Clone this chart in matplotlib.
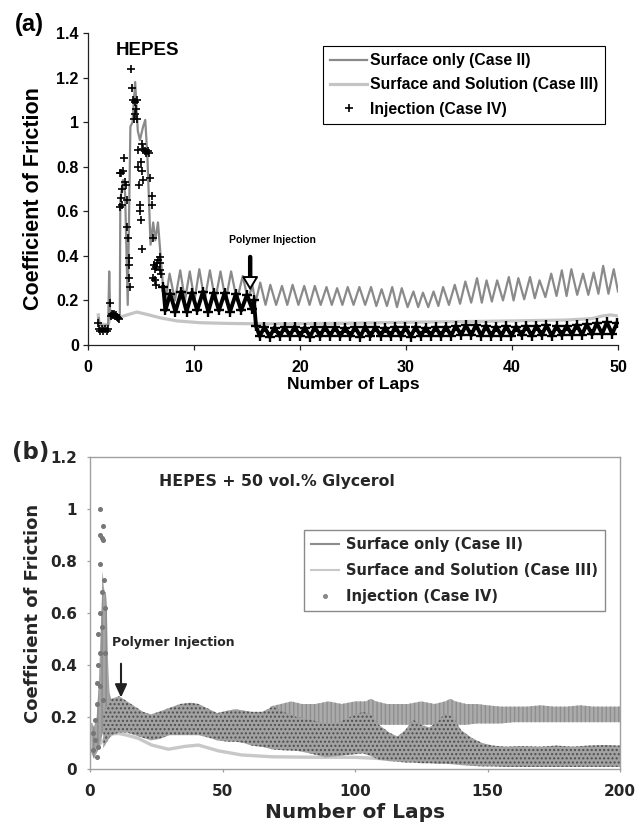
import matplotlib
matplotlib.use('Agg')
import matplotlib.pyplot as plt
from matplotlib.lines import Line2D

plt.rcParams['hatch.linewidth'] = 1.0

# ---------------- Panel (a) data ----------------
a_xticks = [0, 10, 20, 30, 40, 50]
a_xtick_labels = ['0', '10', '20', '30', '40', '50']
a_yticks = [0, 0.2, 0.4, 0.6, 0.8, 1.0, 1.2, 1.4]
a_ytick_labels = ['0', '0.2', '0.4', '0.6', '0.8', '1', '1.2', '1.4']
a_labels = ['Surface only (Case II)', 'Surface and Solution (Case III)', 'Injection (Case IV)']

a_case2_lap = [1.0, 1.1, 1.5, 1.9, 2.0, 2.1, 2.5, 2.8, 3.0, 3.05, 3.3, 3.5, 3.75, 4.0, 4.2, 4.45,
               4.7, 4.9, 5.2, 5.4, 5.6, 5.9, 6.15, 6.35, 6.6, 6.85, 7.05,
               7.3, 7.7, 8.2, 8.7, 9.15, 9.6, 10.05, 10.5, 11.0, 11.5, 12.0, 12.5, 13.0, 13.5,
               14.05, 14.6, 15.1, 15.5, 15.8, 16.25, 16.75, 17.2, 17.75, 18.3, 18.8, 19.3,
               19.85, 20.4, 20.9, 21.4, 21.95, 22.5, 23.0, 23.5, 24.0, 24.5, 25.05, 25.6,
               26.15, 26.7, 27.2, 27.7, 28.2, 28.7, 29.15, 29.6, 30.15, 30.7, 31.15, 31.6,
               32.1, 32.6, 33.05, 33.5, 34.05, 34.6, 35.1, 35.6, 36.15, 36.7, 37.15, 37.6,
               38.1, 38.6, 39.15, 39.7, 40.15, 40.6, 41.15, 41.7, 42.15, 42.6, 43.15, 43.7,
               44.2, 44.7, 45.15, 45.6, 46.15, 46.7, 47.2, 47.7, 48.15, 48.6, 49.1, 49.6, 50.0]
a_case2_cof = [0.12, 0.09, 0.085, 0.09, 0.33, 0.12, 0.13, 0.12, 0.12, 0.65, 0.74, 0.68, 0.18, 0.98, 1.0, 1.18,
               0.96, 0.92, 0.98, 1.01, 0.85, 0.45, 0.55, 0.47, 0.55, 0.40, 0.28,
               0.20, 0.32, 0.20, 0.335, 0.20, 0.33, 0.20, 0.34, 0.20, 0.335, 0.20, 0.33, 0.20, 0.33,
               0.20, 0.31, 0.20, 0.27, 0.19, 0.28, 0.18, 0.27, 0.18, 0.265, 0.18, 0.27,
               0.18, 0.265, 0.18, 0.265, 0.18, 0.26, 0.18, 0.255, 0.18, 0.26, 0.18, 0.26,
               0.18, 0.26, 0.175, 0.25, 0.175, 0.26, 0.17, 0.255, 0.17, 0.24, 0.17, 0.235,
               0.17, 0.24, 0.175, 0.26, 0.18, 0.27, 0.185, 0.285, 0.19, 0.30, 0.19, 0.29,
               0.195, 0.29, 0.20, 0.305, 0.20, 0.30, 0.205, 0.305, 0.21, 0.29, 0.215, 0.32,
               0.22, 0.335, 0.22, 0.34, 0.225, 0.32, 0.225, 0.325, 0.23, 0.355, 0.23, 0.34, 0.24]

a_case3_lap = [0.97, 1.05, 1.9, 2.1, 3.0, 3.7, 4.6, 5.5, 6.8, 8.4, 10.6, 13, 16, 20, 25, 30,
               35, 40, 45, 47.5, 48.5, 49.3, 50]
a_case3_cof = [0.135, 0.095, 0.09, 0.125, 0.125, 0.135, 0.148, 0.138, 0.122, 0.108, 0.1, 0.097,
               0.095, 0.096, 0.098, 0.102, 0.105, 0.108, 0.112, 0.118, 0.13, 0.135, 0.13]

# scattered injection points before the steady oscillation
a_case4_pts_lap = [0.97, 1.0, 1.15, 1.3, 1.45, 1.6, 1.75, 1.9, 2.05, 2.15, 2.25, 2.35, 2.45, 2.55,
                   2.65, 2.75, 2.85, 2.95, 3.0, 3.05, 3.1, 3.15, 3.2, 3.25, 3.3, 3.35, 3.45, 3.55,
                   3.65, 3.7, 3.8, 3.85, 3.88, 3.9, 3.95, 4.1, 4.15, 4.25, 4.3, 4.4, 4.45, 4.55,
                   4.58, 4.65, 4.7, 4.75, 4.8, 4.9, 4.95, 5.0, 5.05, 5.0, 5.05, 5.1, 5.2, 5.2,
                   5.35, 5.5, 5.65, 5.75, 5.85, 6.0, 6.05, 6.1, 6.25, 6.3, 6.15, 6.3, 6.45, 6.45,
                   6.55, 6.6, 6.75, 6.8, 6.75, 6.9]
a_case4_pts_cof = [0.097, 0.07, 0.065, 0.07, 0.065, 0.07, 0.065, 0.07, 0.19, 0.13, 0.14, 0.135, 0.14, 0.13,
                   0.135, 0.125, 0.12, 0.115, 0.62, 0.77, 0.66, 0.77, 0.70, 0.63, 0.78, 0.84, 0.73, 0.72,
                   0.65, 0.53, 0.48, 0.39, 0.36, 0.30, 0.26, 1.24, 1.155, 1.10, 1.013, 1.035, 1.09, 1.06,
                   1.013, 1.10, 0.873, 0.80, 0.72, 0.63, 0.60, 0.56, 0.43, 0.82, 0.90, 0.78, 0.74, 0.88,
                   0.87, 0.86, 0.87, 0.86, 0.75, 0.67, 0.63, 0.48, 0.36, 0.34, 0.30, 0.29, 0.27, 0.35,
                   0.37, 0.38, 0.395, 0.37, 0.335, 0.32]

# injection trace (peaks and troughs of each lap)
a_case4_lap = [7.1, 7.3, 7.75, 8.25, 8.8, 9.3, 9.8, 10.3, 10.85, 11.35, 11.85, 12.35, 12.9, 13.4,
               13.95, 14.45, 15.0, 15.5, 15.65, 15.85,
               16.2, 16.65, 17.15, 17.6, 18.1, 18.55, 19.05, 19.5, 20.0, 20.45, 20.95, 21.4,
               21.9, 22.35, 22.85, 23.3, 23.8, 24.25, 24.75, 25.2, 25.7, 26.15, 26.65, 27.1,
               27.6, 28.05, 28.55, 29.0, 29.5, 29.95, 30.45, 30.9, 31.4, 31.85, 32.35, 32.8,
               33.3, 33.75, 34.25, 34.7, 35.2, 35.65, 36.15, 36.6, 37.1, 37.55, 38.05, 38.5,
               39.0, 39.45, 39.95, 40.4, 40.9, 41.35, 41.85, 42.3, 42.8, 43.25, 43.75, 44.2,
               44.7, 45.15, 45.65, 46.1, 46.6, 47.05, 47.55, 48.0, 48.5, 48.95, 49.45, 49.9]
a_case4_cof = [0.26, 0.155, 0.23, 0.15, 0.24, 0.15, 0.235, 0.155, 0.24, 0.15, 0.235, 0.155, 0.235, 0.15,
               0.23, 0.155, 0.225, 0.16, 0.20, 0.085,
               0.040, 0.080, 0.038, 0.078, 0.040, 0.080, 0.042, 0.082, 0.040, 0.078, 0.038, 0.080,
               0.040, 0.082, 0.042, 0.080, 0.040, 0.078, 0.040, 0.080, 0.038, 0.082, 0.040, 0.080,
               0.042, 0.078, 0.040, 0.082, 0.040, 0.080, 0.038, 0.080, 0.040, 0.078, 0.042, 0.080,
               0.040, 0.082, 0.042, 0.085, 0.045, 0.088, 0.044, 0.090, 0.042, 0.086, 0.040, 0.082,
               0.042, 0.084, 0.042, 0.082, 0.044, 0.085, 0.042, 0.086, 0.044, 0.088, 0.042, 0.085,
               0.044, 0.086, 0.046, 0.090, 0.046, 0.092, 0.048, 0.098, 0.050, 0.102, 0.050, 0.098]

a_inject_lap = 15.3

# ---------------- Panel (b) data ----------------
b_xticks = [0, 50, 100, 150, 200]
b_xtick_labels = ['0', '50', '100', '150', '200']
b_yticks = [0, 0.2, 0.4, 0.6, 0.8, 1.0, 1.2]
b_ytick_labels = ['0', '0.2', '0.4', '0.6', '0.8', '1', '1.2']
b_labels = ['Surface only (Case II)', 'Surface and Solution (Case III)', 'Injection (Case IV)']

# Surface only: envelope of the fast per-lap oscillation
b_case2_spike_lap = [0.5, 1.5, 2.5, 3.3, 3.9, 4.4, 4.8, 5.2, 5.6, 6.0, 6.4, 6.8, 7.3, 8.0, 9.0]
b_case2_spike_hi = [0.18, 0.16, 0.20, 0.32, 0.50, 0.62, 0.76, 0.70, 0.68, 0.68, 0.60, 0.42, 0.30, 0.26, 0.22]
b_case2_spike_lo = [0.06, 0.04, 0.06, 0.08, 0.10, 0.12, 0.14, 0.14, 0.15, 0.15, 0.15, 0.15, 0.15, 0.15, 0.16]

b_case2_band_lap = [68, 72, 76, 80, 85, 90, 95, 100, 104, 106, 108, 112, 116, 120, 125, 130,
                    134, 136, 138, 142, 146, 150, 155, 160, 165, 170, 175, 180, 185, 190, 195, 200]
b_case2_band_hi = [0.24, 0.25, 0.26, 0.25, 0.25, 0.26, 0.25, 0.26, 0.26, 0.27, 0.26, 0.25, 0.25, 0.25, 0.26, 0.25,
                   0.26, 0.27, 0.26, 0.25, 0.25, 0.245, 0.24, 0.24, 0.24, 0.245, 0.24, 0.24, 0.245, 0.24, 0.24, 0.24]
b_case2_band_lo = [0.19, 0.18, 0.17, 0.17, 0.17, 0.17, 0.17, 0.17, 0.17, 0.17, 0.17, 0.17, 0.17, 0.17, 0.17, 0.17,
                   0.17, 0.17, 0.17, 0.17, 0.175, 0.175, 0.175, 0.18, 0.18, 0.18, 0.18, 0.18, 0.18, 0.18, 0.18, 0.18]

b_case3_lap = [0.5, 1.5, 2.5, 4, 6, 8.5, 10.7, 14, 18.2, 23.3, 29.6, 35.8, 40.9, 48.4, 57.2, 68.6, 86, 100, 110]
b_case3_cof = [0.17, 0.10, 0.08, 0.10, 0.12, 0.135, 0.137, 0.13, 0.118, 0.092, 0.076, 0.087, 0.092, 0.07,
               0.054, 0.047, 0.045, 0.045, 0.04]

# Injection: envelope of the dense point cloud
b_case4_lap = [5, 8, 11, 14, 17, 20, 23, 26, 30, 34, 38, 41, 45, 48, 52, 55, 58, 61, 65, 69, 73, 78, 83, 89, 94,
               98, 103, 106, 109, 113, 116, 119, 122, 125, 128, 131, 134, 137, 140, 144, 148, 152, 157, 163,
               170, 176, 182, 188, 194, 200]
b_case4_hi = [0.22, 0.27, 0.28, 0.26, 0.24, 0.22, 0.21, 0.22, 0.235, 0.25, 0.255, 0.25, 0.23, 0.215, 0.225,
              0.23, 0.225, 0.22, 0.22, 0.24, 0.22, 0.20, 0.19, 0.175, 0.18, 0.20, 0.22, 0.21, 0.17, 0.14,
              0.125, 0.15, 0.19, 0.17, 0.16, 0.18, 0.214, 0.20, 0.15, 0.12, 0.10, 0.09, 0.086, 0.088, 0.086,
              0.09, 0.086, 0.09, 0.092, 0.09]
b_case4_lo = [0.08, 0.13, 0.14, 0.14, 0.13, 0.12, 0.11, 0.115, 0.13, 0.13, 0.13, 0.13, 0.12, 0.11, 0.105,
              0.105, 0.10, 0.09, 0.085, 0.075, 0.072, 0.07, 0.06, 0.045, 0.05, 0.055, 0.06, 0.05, 0.035, 0.03,
              0.028, 0.025, 0.025, 0.022, 0.022, 0.02, 0.02, 0.018, 0.015, 0.012, 0.01, 0.01, 0.008, 0.008,
              0.008, 0.008, 0.008, 0.008, 0.008, 0.008]
b_case4_pts_lap = [3.8, 5.0, 3.8, 4.4, 5.0, 3.8, 5.3, 4.4, 3.8, 3.1, 3.8, 3.1, 2.5, 3.8, 2.5, 1.9, 1.25, 1.9,
                   1.25, 2.5, 3.1, 5.0, 5.7, 4.4, 5.7]
b_case4_pts_cof = [1.0, 0.935, 0.90, 0.887, 0.88, 0.79, 0.727, 0.68, 0.60, 0.52, 0.445, 0.40, 0.33, 0.32,
                   0.25, 0.19, 0.137, 0.11, 0.073, 0.047, 0.085, 0.265, 0.445, 0.547, 0.62]

b_inject_lap = 11.7

# ---------------- Figure ----------------
W, H = 644, 824
fig = plt.figure(figsize=(W / 100, H / 100), dpi=100)

def fx(px):
    return px / W

def fy(py):
    return 1 - py / H

ARIAL = 'Liberation Sans'
VERD = 'DejaVu Sans'

# ===== Panel (a) =====
axa = fig.add_axes([fx(88), fy(345), fx(618) - fx(88), fy(33) - fy(345)])
axa.plot(a_case3_lap, a_case3_cof, color='#c4c4c4', lw=2.3, zorder=2, label=a_labels[1])
axa.plot(a_case2_lap, a_case2_cof, color='#8a8a8a', lw=1.6, zorder=3, label=a_labels[0])
axa.plot(a_case4_lap, a_case4_cof, color='black', lw=2.8, marker='+', ms=7, mew=1.7, zorder=4)
h4 = axa.plot(a_case4_pts_lap, a_case4_pts_cof, ls='none', color='black', marker='+', ms=6, mew=1.2,
              zorder=4, label=a_labels[2])
axa.set_xlim(0, 50)
axa.set_ylim(0, 1.4)
axa.set_xticks(a_xticks)
axa.set_xticklabels(a_xtick_labels)
axa.set_yticks(a_yticks)
axa.set_yticklabels(a_ytick_labels)
for s in ['top', 'right']:
    axa.spines[s].set_visible(False)
for s in ['left', 'bottom']:
    axa.spines[s].set_color('#222222')
    axa.spines[s].set_linewidth(0.9)
axa.tick_params(axis='both', direction='out', length=3.6, width=0.9, color='#222222')
axa.tick_params(axis='x', pad=7)
axa.tick_params(axis='y', pad=3)
for t in axa.get_xticklabels() + axa.get_yticklabels():
    t.set_fontfamily(ARIAL)
    t.set_fontweight('bold')
    t.set_fontsize(11.5)
axa.set_xlabel('Number of Laps', fontfamily=ARIAL, fontweight='bold', fontsize=12.5, va='center')
axa.xaxis.set_label_coords(0.5, -0.126)
axa.set_ylabel('Coefficient of Friction', fontfamily=ARIAL, fontweight='bold', fontsize=15.5, va='center')
axa.yaxis.set_label_coords(-0.103, 0.47)

axa.text(5.66, 1.32, 'HEPES', fontfamily=ARIAL, fontweight='bold', fontsize=13.5, ha='center', va='center')
axa.text(17.4, 0.47, 'Polymer Injection', fontfamily=ARIAL, fontweight='bold', fontsize=7.5,
         ha='center', va='center')
axa.annotate('', xy=(a_inject_lap, 0.285), xytext=(a_inject_lap, 0.395),
             arrowprops=dict(arrowstyle='-', lw=3.2, color='black', shrinkA=0, shrinkB=0), zorder=6)
axa.annotate('', xy=(a_inject_lap, 0.245), xytext=(a_inject_lap, 0.292),
             arrowprops=dict(arrowstyle='-|>,head_length=0.75,head_width=0.45', lw=1.4, ec='black',
                             fc='white', shrinkA=0, shrinkB=0, mutation_scale=11), zorder=6)

h_a = [axa.lines[1], axa.lines[0], h4[0]]
leg_a = axa.legend(h_a, a_labels, loc='upper right', bbox_to_anchor=((605 - 88) / 530, (345 - 46) / 312),
                   bbox_transform=axa.transAxes, borderaxespad=0, fancybox=False, framealpha=1,
                   edgecolor='black', borderpad=0.45, labelspacing=0.6, handlelength=2.3,
                   handletextpad=0.2, numpoints=1,
                   prop={'family': ARIAL, 'weight': 'bold', 'size': 11.3})
leg_a.get_frame().set_linewidth(0.8)

fig.text(fx(29), fy(24), '(a)', fontfamily=ARIAL, fontweight='bold', fontsize=17, ha='center', va='center')

# ===== Panel (b) =====
TXT = '#262626'
axb = fig.add_axes([fx(90), fy(769), fx(620) - fx(90), fy(457) - fy(769)])
axb.plot(b_case3_lap, b_case3_cof, color='#c8c8c8', lw=2.4, zorder=2)
axb.fill_between(b_case2_spike_lap, b_case2_spike_lo, b_case2_spike_hi, facecolor='#a4a4a4',
                 edgecolor='#8c8c8c', hatch='||||', lw=0, zorder=3)
axb.fill_between(b_case2_band_lap, b_case2_band_lo, b_case2_band_hi, facecolor='#ababab',
                 edgecolor='#8e8e8e', hatch='||||', lw=0, zorder=3)
axb.fill_between(b_case4_lap, b_case4_lo, b_case4_hi, facecolor='#a2a2a2',
                 edgecolor='#4e4e4e', hatch='....', lw=0, zorder=4)
axb.plot(b_case4_pts_lap, b_case4_pts_cof, ls='none', marker='o', ms=2.6, color='#777777', zorder=5)
axb.set_xlim(0, 200)
axb.set_ylim(0, 1.2)
axb.set_xticks(b_xticks)
axb.set_xticklabels(b_xtick_labels)
axb.set_yticks(b_yticks)
axb.set_yticklabels(b_ytick_labels)
for s in axb.spines.values():
    s.set_color('#a0a0a0')
    s.set_linewidth(1.0)
axb.tick_params(axis='both', direction='out', length=2.5, width=0.9, color='#a0a0a0', labelcolor=TXT)
axb.tick_params(axis='x', pad=8)
axb.tick_params(axis='y', pad=7)
for t in axb.get_xticklabels() + axb.get_yticklabels():
    t.set_fontfamily(VERD)
    t.set_fontweight('bold')
    t.set_fontsize(11)
axb.set_xlabel('Number of Laps', fontfamily=VERD, fontweight='bold', fontsize=14.5, va='center', color=TXT)
axb.xaxis.set_label_coords(0.5, -0.138)
axb.set_ylabel('Coefficient of Friction', fontfamily=VERD, fontweight='bold', fontsize=13, va='center',
               color=TXT)
axb.yaxis.set_label_coords(-0.1075, 0.5)

axb.text(70.6, 1.104, 'HEPES + 50 vol.% Glycerol', fontfamily=VERD, fontweight='bold', fontsize=11.3,
         ha='center', va='center', color=TXT)
axb.text(31.5, 0.488, 'Polymer Injection', fontfamily=VERD, fontweight='bold', fontsize=9,
         ha='center', va='center', color=TXT)
axb.annotate('', xy=(b_inject_lap, 0.275), xytext=(b_inject_lap, 0.405),
             arrowprops=dict(arrowstyle='-|>,head_length=0.65,head_width=0.3', lw=1.5, color='#222222',
                             shrinkA=0, shrinkB=0, mutation_scale=12), zorder=6)

h_b = [Line2D([], [], color='#8c8c8c', lw=1.5),
       Line2D([], [], color='#c8c8c8', lw=1.5),
       Line2D([], [], ls='none', marker='o', ms=2.6, color='#888888')]
leg_b = axb.legend(h_b, b_labels, loc='upper right', bbox_to_anchor=((605 - 90) / 530, (769 - 530) / 312),
                   bbox_transform=axb.transAxes, borderaxespad=0, fancybox=False, framealpha=1,
                   edgecolor='#8a8a8a', borderpad=0.5, labelspacing=0.75, handlelength=1.9,
                   handletextpad=0.45, numpoints=1,
                   prop={'family': VERD, 'weight': 'bold', 'size': 10.5})
leg_b.get_frame().set_linewidth(1.0)
for t in leg_b.get_texts():
    t.set_color(TXT)

fig.text(fx(31), fy(453), '(b)', fontfamily=VERD, fontweight='bold', fontsize=16.5, ha='center', va='center',
         color=TXT)

fig.savefig('out.png', dpi=100)
